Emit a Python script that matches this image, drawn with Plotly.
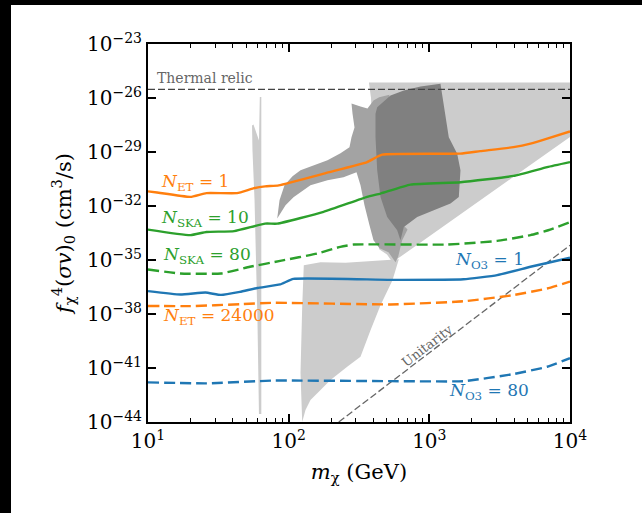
import numpy as np
import plotly.graph_objects as go

# ---------------- data ----------------
et1_m = [10, 11.6, 20, 26, 43, 56, 68, 85, 188, 361, 462, 1660, 2300, 3963, 5236, 6883, 10000]
et1_sv = [6.5e-32, 5.6e-32, 3.2e-32, 5.2e-32, 5.2e-32, 9.5e-32, 1.23e-31, 1.41e-31, 7.1e-31,
          2.75e-30, 7.1e-30, 8.1e-30, 1.12e-29, 1.86e-29, 2.9e-29, 5.5e-29, 1.38e-28]

ska10_m = [10, 20, 26, 41, 68, 83, 177, 361, 450, 734, 1667, 3963, 6883, 10000]
ska10_sv = [4.9e-34, 2.4e-34, 3.6e-34, 4.0e-34, 1.05e-33, 1.05e-33, 4.7e-33, 3.2e-32,
            4.9e-32, 1.55e-31, 2.1e-31, 4.7e-31, 1.45e-30, 2.75e-30]

ska80_m = [10, 17, 33, 53, 87, 160, 233, 290, 1340, 3035, 5236, 7000, 10000]
ska80_sv = [2.95e-36, 1.78e-36, 1.78e-36, 4.2e-36, 8.9e-36, 2.3e-35, 5.4e-35, 7.2e-35,
            7.2e-35, 1.15e-34, 2.4e-34, 4.5e-34, 1.26e-33]

o31_m = [10, 17, 25.6, 33, 45, 60, 87, 108, 530, 1750, 3035, 5236, 7000, 10000]
o31_sv = [1.86e-37, 1.2e-37, 1.55e-37, 1.15e-37, 1.7e-37, 2.8e-37, 4.4e-37, 8.9e-37,
          7.9e-37, 8.5e-37, 1.45e-36, 4.2e-36, 7.0e-36, 1.35e-35]

et24k_m = [10, 20, 45, 78, 530, 1750, 3963, 6883, 10000]
et24k_sv = [2.8e-38, 2.75e-38, 3.5e-38, 4.2e-38, 3.4e-38, 5.1e-38, 1.12e-37, 2.6e-37, 6.3e-37]

o380_m = [10, 26, 78, 530, 1750, 3963, 6883, 10000]
o380_sv = [1.6e-42, 1.4e-42, 2.0e-42, 1.86e-42, 1.86e-42, 4.6e-42, 1.17e-41, 3.5e-41]

thermal_m = [10, 10000]
thermal_sv = [3e-26, 3e-26]

unit_m = [227, 10000]
unit_sv = [1e-44, 6.6e-35]

# shaded regions, polygon vertices (mass GeV, sigma v)
light_m = [372, 10000, 10000, 652, 604, 547, 500, 440, 420, 400, 385]
light_sv = [7.3e-26, 7.3e-26, 6.9e-29, 2.0e-35, 1.41e-35, 7.4e-36, 2.0e-35, 4.0e-35,
            1.0e-33, 1.0e-30, 1.0e-26]

tri_m = [128.1, 168.4, 253.5, 394.5, 606.7, 547, 449.6, 381.8, 324.1, 260.7, 198.3,
         163.0, 142.9, 131.7, 124.8, 121.4, 124.8]
tri_sv = [5.1e-36, 7.55e-36, 7.1e-36, 8.6e-36, 1.11e-35, 7.6e-37, 3.1e-38, 1.27e-39,
          4.2e-41, 1.17e-41, 2.14e-42, 4.6e-43, 1.66e-43, 4.6e-44, 1e-44, 5.2e-42, 2.5e-38]

spike_m = [62.35, 63.9, 63.9, 61.5, 60.0, 58.6, 57.2, 55.3, 54.9, 56.2, 58.1, 61.5]
spike_sv = [1.12e-26, 1.12e-26, 2.78e-44, 2.78e-44, 4.56e-39, 3.49e-35, 2.07e-32,
            1.23e-29, 3.0e-28, 3.42e-28, 1.59e-28, 4.4e-29]

mid_m = [82.9, 86.1, 93.4, 106.5, 121.4, 150.2, 188.8, 233.6, 270.6, 279.7, 293.8, 284.3,
         279.7, 324.1, 363.4, 400.9, 440, 520, 520, 480, 700, 640, 600, 574.7, 512.5,
         442.3, 400.9, 375.5, 345.9, 324.1, 303.6, 245.3, 188.8, 142.9, 108.2, 95.0]
mid_sv = [2.0e-33, 2.07e-32, 1.41e-31, 4.46e-31, 9.6e-31, 1.82e-30, 3.44e-30, 8.4e-30,
          1.81e-29, 6.5e-29, 2.33e-28, 1.39e-27, 5.0e-27, 3.4e-27, 2.64e-27, 7.3e-27,
          1.1e-26, 1.5e-26, 1.0e-28, 1.0e-32, 5.0e-34, 1.2e-34, 1.5e-35, 7.55e-36, 2.7e-35,
          4.5e-35, 1.25e-34, 8.5e-34, 1.10e-32, 1.41e-31, 7.4e-31, 3.92e-31, 2.67e-31,
          1.41e-31, 3.04e-32, 1.10e-32]

dark_m = [426, 529.7, 658.5, 865, 1200, 1267, 1375, 1578, 1665, 1620, 1414, 1076, 820,
          658.5, 623.7, 590.8, 501.6, 449.6, 426, 414.3, 414.3]
dark_sv = [3.11e-27, 1.39e-26, 2.63e-26, 4.39e-26, 6.2e-26, 4.81e-27, 6.7e-29, 8.1e-30,
           9.6e-31, 3.16e-32, 1.36e-32, 5.8e-33, 2.45e-33, 6.85e-34, 1.25e-34, 4.5e-34,
           2.45e-33, 3.16e-32, 9.6e-31, 6.7e-29, 1.34e-27]

label_text = ["<i>N</i><sub>ET</sub> = 1", "<i>N</i><sub>SKA</sub> = 10",
              "<i>N</i><sub>SKA</sub> = 80", "<i>N</i><sub>ET</sub> = 24000",
              "<i>N</i><sub>O3</sub> = 1", "<i>N</i><sub>O3</sub> = 80"]
label_m = [11.9, 11.9, 12.3, 12.3, 1485, 1346]
label_sv = [2.15e-31, 2.09e-33, 1.85e-35, 6.95e-39, 9.7e-36, 4.8e-43]
label_col = ["orange", "green", "green", "orange", "blue", "blue"]

ytick_vals = [1e-23, 1e-26, 1e-29, 1e-32, 1e-35, 1e-38, 1e-41, 1e-44]
ytick_text = ["10<sup>−23</sup>", "10<sup>−26</sup>", "10<sup>−29</sup>", "10<sup>−32</sup>",
              "10<sup>−35</sup>", "10<sup>−38</sup>", "10<sup>−41</sup>", "10<sup>−44</sup>"]
xtick_vals = [10, 100, 1000, 10000]
xtick_text = ["10<sup>1</sup>", "10<sup>2</sup>", "10<sup>3</sup>", "10<sup>4</sup>"]

# ---------------- styling ----------------
C = {"orange": "#ff7f0e", "green": "#2ca02c", "blue": "#1f77b4"}
LIGHT, MID, DARK = "#cccccc", "#a3a3a3", "#808080"
FONT = "DejaVu Serif"
DASH = "11px,5px"

fig = go.Figure()


def region(m, sv, col):
    fig.add_trace(go.Scatter(x=m, y=sv, fill="toself", fillcolor=col, mode="lines",
                             line=dict(width=0, color=col), hoverinfo="skip"))


region(light_m, light_sv, LIGHT)
region(tri_m, tri_sv, LIGHT)
region(spike_m, spike_sv, LIGHT)
region(mid_m, mid_sv, MID)
region(dark_m, dark_sv, DARK)


def curve(m, sv, col, dash=None, width=2.4):
    fig.add_trace(go.Scatter(x=m, y=sv, mode="lines",
                             line=dict(color=col, width=width, dash=dash, shape="spline",
                                       smoothing=0.4),
                             hoverinfo="skip"))


fig.add_trace(go.Scatter(x=thermal_m, y=thermal_sv, mode="lines",
                         line=dict(color="#444444", width=1.3, dash="7px,3px")))
fig.add_trace(go.Scatter(x=unit_m, y=unit_sv, mode="lines",
                         line=dict(color="#666666", width=1.3, dash="7px,3px")))

curve(et1_m, et1_sv, C["orange"])
curve(ska10_m, ska10_sv, C["green"])
curve(ska80_m, ska80_sv, C["green"], DASH)
curve(o31_m, o31_sv, C["blue"])
curve(et24k_m, et24k_sv, C["orange"], DASH)
curve(o380_m, o380_sv, C["blue"], DASH)

annotations = []
for t, m, s, c in zip(label_text, label_m, label_sv, label_col):
    annotations.append(dict(x=np.log10(m), y=np.log10(s), xref="x", yref="y", text=t,
                            showarrow=False, xanchor="left", yanchor="middle",
                            font=dict(family=FONT, size=17, color=C[c])))
annotations.append(dict(x=np.log10(11.3), y=np.log10(1.27e-25), xref="x", yref="y",
                        text="Thermal relic", showarrow=False, xanchor="left",
                        yanchor="middle", font=dict(family=FONT, size=14, color="#666666")))
annotations.append(dict(x=np.log10(966), y=np.log10(1.87e-40), xref="x", yref="y",
                        text="Unitarity", showarrow=False, textangle=-37.5,
                        font=dict(family=FONT, size=13, color="#666666")))

axis_common = dict(showgrid=False, zeroline=False, showline=True, linecolor="black",
                   linewidth=2, mirror="allticks", ticks="inside", ticklen=8,
                   tickwidth=1.5, tickcolor="black",
                   tickfont=dict(family=FONT, size=20, color="black"))

fig.update_xaxes(type="log", range=[1, 4], tickvals=xtick_vals, ticktext=xtick_text,
                 minor=dict(ticks="inside", ticklen=4, tickwidth=1, tickcolor="black",
                            dtick="D1", showgrid=False),
                 title=dict(text="<i>m</i><sub>χ</sub> (GeV)",
                            font=dict(family=FONT, size=21, color="black"), standoff=12),
                 **axis_common)
fig.update_yaxes(type="log", range=[-44, -23], tickvals=ytick_vals, ticktext=ytick_text,
                 title=dict(text="<i>f</i><sub>χ</sub><sup>4</sup>(<i>σv</i>)<sub>0</sub> (cm<sup>3</sup>/s)",
                            font=dict(family=FONT, size=21, color="black"), standoff=10),
                 **axis_common)

L, R, T, B = 148, 72, 44, 91
W, H = 642, 513
pw, ph = W - L - R, H - T - B
FRAME = "black"
shapes = [
    dict(type="rect", xref="paper", yref="paper", x0=-L / pw, x1=(11 - L) / pw,
         y0=-B / ph, y1=(H - B) / ph, fillcolor=FRAME, line=dict(width=0), layer="above"),
    dict(type="rect", xref="paper", yref="paper", x0=-L / pw, x1=(W - L) / pw,
         y0=(H - B - 5) / ph, y1=(H - B) / ph, fillcolor=FRAME, line=dict(width=0),
         layer="above"),
]

fig.update_layout(width=W, height=H, margin=dict(l=L, r=R, t=T, b=B),
                  paper_bgcolor="white", plot_bgcolor="white", showlegend=False,
                  annotations=annotations, shapes=shapes)

fig.write_html("out.html")
